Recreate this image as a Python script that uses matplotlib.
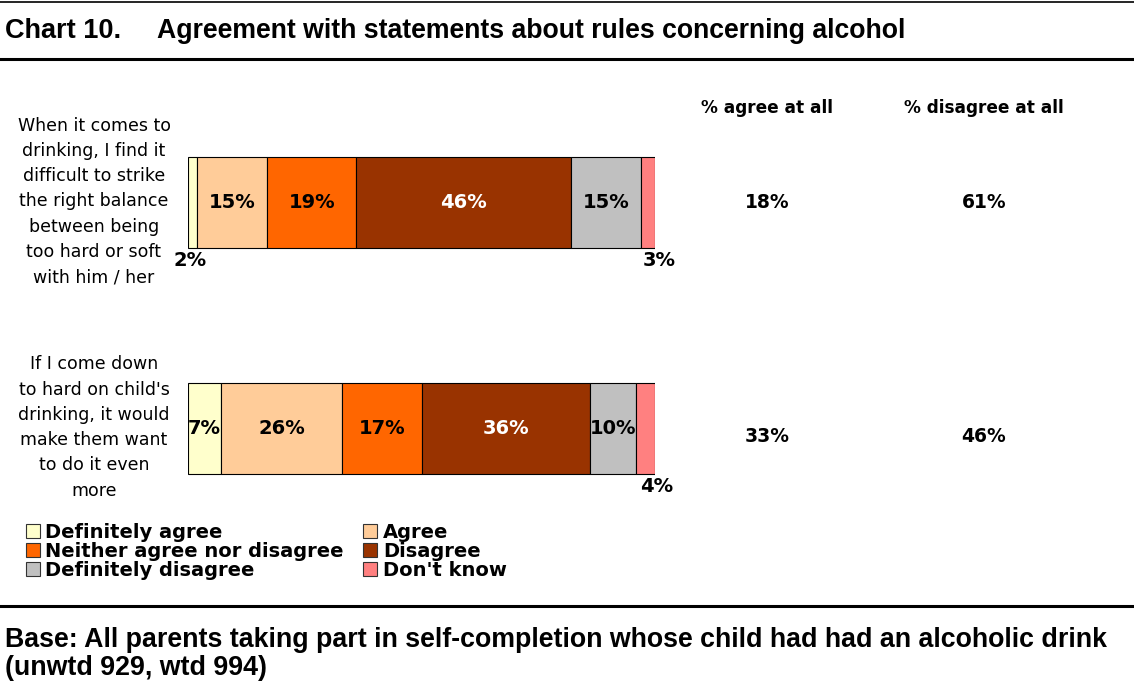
import matplotlib
matplotlib.use("Agg")
import matplotlib.pyplot as plt
from matplotlib.patches import Rectangle
from matplotlib.lines import Line2D
import numpy as np

# ---- data ----
statements = [
    "When it comes to\ndrinking, I find it\ndifficult to strike\nthe right balance\nbetween being\ntoo hard or soft\nwith him / her",
    "If I come down\nto hard on child's\ndrinking, it would\nmake them want\nto do it even\nmore",
]
responses = ["Definitely agree", "Agree", "Neither agree nor disagree",
             "Disagree", "Definitely disagree", "Don't know"]
definitely_agree = [2, 7]
agree = [15, 26]
neither = [19, 17]
disagree = [46, 36]
definitely_disagree = [15, 10]
dont_know = [3, 4]
agree_at_all = [18, 33]
disagree_at_all = [61, 46]

series = [definitely_agree, agree, neither, disagree, definitely_disagree, dont_know]
colors = ["#FFFFCC", "#FFCC99", "#FF6600", "#993300", "#C0C0C0", "#FF8080"]
text_colors = ["black", "black", "black", "white", "black", "black"]

W, H = 1134, 695
fig = plt.figure(figsize=(W / 100, H / 100), dpi=100)

def fx(px):
    return px / W

def fy(py):
    return 1 - py / H

# bar area: x 188..655 px, category centres at 202.5 and 428.5 px
ax = fig.add_axes([fx(188), fy(541.5), fx(655) - fx(188), (541.5 - 89.5) / H])
ax.set_xlim(0, 100)
ax.set_ylim(1.5, -0.5)
ax.axis("off")

LABEL_FONT = "DejaVu Sans"
bar_h = 0.403
ypos = np.arange(len(statements))
left = np.zeros(len(statements))
for k, vals in enumerate(series):
    vals = np.array(vals, dtype=float)
    ax.barh(ypos, vals, left=left, height=bar_h, color=colors[k],
            edgecolor="black", linewidth=0.8, label=responses[k])
    for i, v in enumerate(vals):
        cx = left[i] + v / 2
        if v >= 5:
            ax.text(cx, ypos[i], f"{v:.0f}%", ha="center", va="center",
                    fontsize=14, fontweight="bold", color=text_colors[k],
                    family=LABEL_FONT)
        else:
            # narrow segments get their label under the bar
            shift = -3 if k == 0 else 11
            ax.annotate(f"{v:.0f}%", (cx, ypos[i] + bar_h / 2),
                        xytext=(shift, -12), textcoords="offset pixels",
                        ha="center", va="center", fontsize=14,
                        fontweight="bold", family=LABEL_FONT)
    left += vals

# statement labels to the left of each bar
for i, s in enumerate(statements):
    ax.annotate(s, (0, ypos[i]), xycoords="data",
                xytext=(fx(94), 1), textcoords=("figure fraction", "offset pixels"),
                ha="center", va="center", fontsize=12.5, linespacing=1.52,
                family=LABEL_FONT)

# summary columns
col_x = [767, 984]
headers = ["% agree at all", "% disagree at all"]
row_shift = [0, -8]
for cx, head in zip(col_x, headers):
    fig.text(fx(cx), fy(108), head, ha="center", va="center",
             fontsize=12.2, fontweight="bold", family=LABEL_FONT)
for i in range(len(statements)):
    for cx, vals in zip(col_x, [agree_at_all, disagree_at_all]):
        ax.annotate(f"{vals[i]}%", (0, ypos[i]),
                    xytext=(fx(cx), row_shift[i]),
                    textcoords=("figure fraction", "offset pixels"),
                    ha="center", va="center", fontsize=13.5, fontweight="bold",
                    family=LABEL_FONT)

# legend in two columns
handles = [Rectangle((0, 0), 1, 1, facecolor=c, edgecolor="#333333", linewidth=0.8)
           for c in colors]
order = [0, 2, 4, 1, 3, 5]
leg = fig.legend([handles[j] for j in order], [responses[j] for j in order],
                 ncol=2, loc="upper left", bbox_to_anchor=(fx(26), fy(523)),
                 frameon=False, prop={"family": LABEL_FONT, "weight": "bold", "size": 14},
                 handlelength=0.7, handleheight=0.7, handletextpad=0.3,
                 labelspacing=0.0, columnspacing=1.0, borderaxespad=0, borderpad=0)

# title and rules
TITLE_FONT = "Liberation Sans"
fig.text(fx(5), fy(31), "Chart 10.", ha="left", va="center",
         fontsize=19.5, fontweight="bold", family=TITLE_FONT)
fig.text(fx(157), fy(31), "Agreement with statements about rules concerning alcohol",
         ha="left", va="center", fontsize=19.2, fontweight="bold", family=TITLE_FONT)
fig.text(fx(5), fy(640), "Base: All parents taking part in self-completion whose child had had an alcoholic drink",
         ha="left", va="center", fontsize=19.3, fontweight="bold", family=TITLE_FONT)
fig.text(fx(5), fy(668), "(unwtd 929, wtd 994)",
         ha="left", va="center", fontsize=19.3, fontweight="bold", family=TITLE_FONT)

for py, lw in [(1.5, 1.2), (58.5, 2.2), (605.5, 2.2)]:
    fig.add_artist(Line2D([0, 1], [fy(py), fy(py)], transform=fig.transFigure,
                          color="black", linewidth=lw))

fig.savefig("out.png", dpi=100, facecolor="white")
